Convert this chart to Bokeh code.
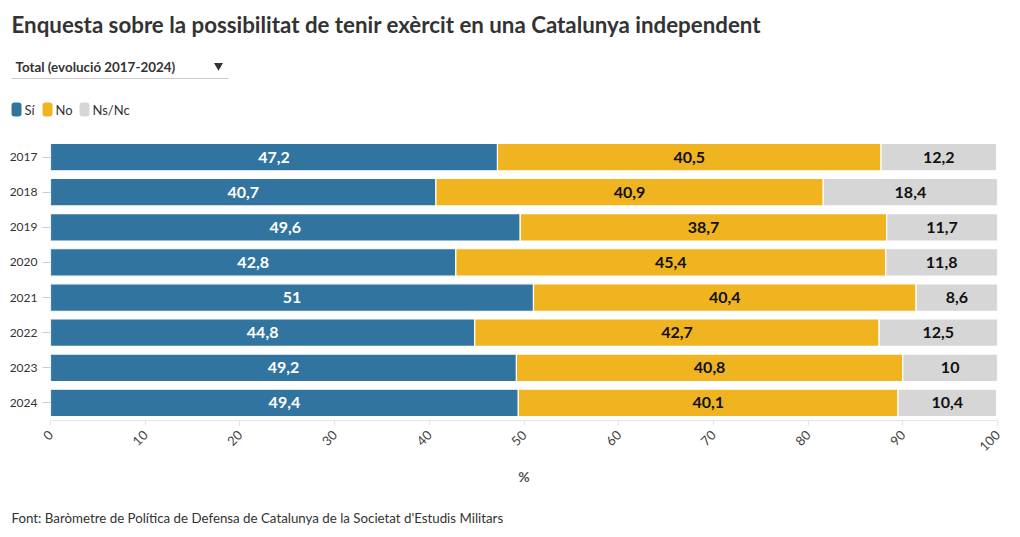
from bokeh.plotting import figure
from bokeh.models import ColumnDataSource, FactorRange, Range1d, FixedTicker
from bokeh.layouts import column
from bokeh.core.properties import value
from bokeh.embed import file_html
from bokeh.resources import INLINE
import math

years = ["2017", "2018", "2019", "2020", "2021", "2022", "2023", "2024"]
si = [47.2, 40.7, 49.6, 42.8, 51, 44.8, 49.2, 49.4]
no = [40.5, 40.9, 38.7, 45.4, 40.4, 42.7, 40.8, 40.1]
nsnc = [12.2, 18.4, 11.7, 11.8, 8.6, 12.5, 10, 10.4]
series_names = ["Sí", "No", "Ns/Nc"]
colors = ["#31749f", "#efb41f", "#d6d6d6"]
x_ticks = [0, 10, 20, 30, 40, 50, 60, 70, 80, 90, 100]

title_text = "Enquesta sobre la possibilitat de tenir exèrcit en una Catalunya independent"
dropdown_text = "Total (evolució 2017-2024)"
source_text = "Font: Baròmetre de Política de Defensa de Catalunya de la Societat d'Estudis Militars"

FONT = "Lato"
W = 1010
FRAME_L = 50
FRAME_R = 997
HEAD_H = 139
MAIN_H = 351
FOOT_H = 40


def fmt(v):
    s = ("%.1f" % v).rstrip("0").rstrip(".")
    return s.replace(".", ",")


def no_align(f):
    if "frame_align" in f.properties():
        f.frame_align = False


def blank(h):
    f = figure(width=W, height=h, output_backend="svg", toolbar_location=None,
               x_range=Range1d(0, W), y_range=Range1d(h, 0),
               x_axis_location=None, y_axis_location=None,
               min_border=0, min_border_left=0, min_border_right=0, min_border_top=0, min_border_bottom=0)
    f.outline_line_color = None
    f.xgrid.grid_line_color = None
    f.ygrid.grid_line_color = None
    f.background_fill_color = "white"
    f.border_fill_color = "white"
    no_align(f)
    return f


# ---------- header ----------
head = blank(HEAD_H)
head.text(x=[11], y=[24], text=[title_text], text_font=value(FONT), text_font_style="bold",
          text_font_size="22.3px", text_color="#333333", text_baseline="middle")
head.text(x=[15], y=[66], text=[dropdown_text], text_font=value(FONT), text_font_style="bold",
          text_font_size="13.4px", text_color="#333333", text_baseline="middle")
head.scatter(x=[218], y=[65], marker="inverted_triangle", size=9, fill_color="#333333", line_color=None)
head.segment(x0=[11], y0=[78], x1=[228], y1=[78], line_color="#cccccc", line_width=1)

lx = 11
text_w = [11, 17, 35]
for name, c, tw in zip(series_names, colors, text_w):
    head.quad(left=[lx], right=[lx + 10], top=[102], bottom=[116], fill_color=c, line_color=None,
              border_radius=3)
    head.text(x=[lx + 13], y=[109], text=[name], text_font=value(FONT), text_font_size="13px",
              text_color="#333333", text_baseline="middle")
    lx += 13 + tw + 7

# ---------- main chart ----------
source = ColumnDataSource(dict(year=years, si=si, no=no, ns=nsnc))

p = figure(width=W, height=MAIN_H, output_backend="svg", toolbar_location=None,
           x_range=Range1d(0, 100), y_range=FactorRange(*list(reversed(years)), range_padding=0),
           min_border_left=FRAME_L, min_border_right=W - FRAME_R, min_border_top=0, min_border_bottom=70)
p.outline_line_color = None
p.background_fill_color = "white"
p.border_fill_color = "white"
p.xgrid.grid_line_color = None
p.ygrid.grid_line_color = None
no_align(p)

p.hbar_stack(["si", "no", "ns"], y="year", height=0.78, color=colors, source=source,
             line_color="white", line_width=1.2)

starts = [0.0] * len(years)
vals_list = [si, no, nsnc]
txt_colors = ["white", "#111111", "#111111"]
for vals, tc in zip(vals_list, txt_colors):
    mids = [s + v / 2 for s, v in zip(starts, vals)]
    src = ColumnDataSource(dict(x=mids, y=years, t=[fmt(v) for v in vals]))
    p.text(x="x", y="y", text="t", source=src, text_align="center", text_baseline="middle",
           text_font=value(FONT), text_font_style="bold", text_font_size="16px", text_color=tc)
    starts = [s + v for s, v in zip(starts, vals)]

xa = p.xaxis[0]
xa.ticker = FixedTicker(ticks=x_ticks)
xa.major_label_orientation = math.pi / 4
xa.axis_line_color = "#e4e4ee"
xa.major_tick_line_color = "#e4e4ee"
xa.major_tick_out = 5
xa.major_tick_in = 0
xa.minor_tick_line_color = None
xa.major_label_text_font = FONT
xa.major_label_text_font_size = "13px"
xa.major_label_text_color = "#444444"
xa.major_label_standoff = 7
xa.axis_label = "%"
xa.axis_label_text_font = FONT
xa.axis_label_text_font_style = "bold"
xa.axis_label_text_font_size = "14px"
xa.axis_label_text_color = "#555555"
xa.axis_label_standoff = 9

ya = p.yaxis[0]
ya.axis_line_color = None
ya.major_tick_line_color = "#cccccc"
ya.major_tick_out = 8
ya.major_tick_in = 0
ya.minor_tick_line_color = None
ya.major_label_text_font = FONT
ya.major_label_text_font_size = "12px"
ya.major_label_text_color = "#333333"
ya.major_label_standoff = 5

# ---------- footer ----------
foot = blank(FOOT_H)
foot.text(x=[11], y=[27], text=[source_text], text_font=value(FONT), text_font_size="13.3px",
          text_color="#333333", text_baseline="middle")

layout = column(head, p, foot, spacing=0)
open("out.html", "w").write(file_html(layout, INLINE))
